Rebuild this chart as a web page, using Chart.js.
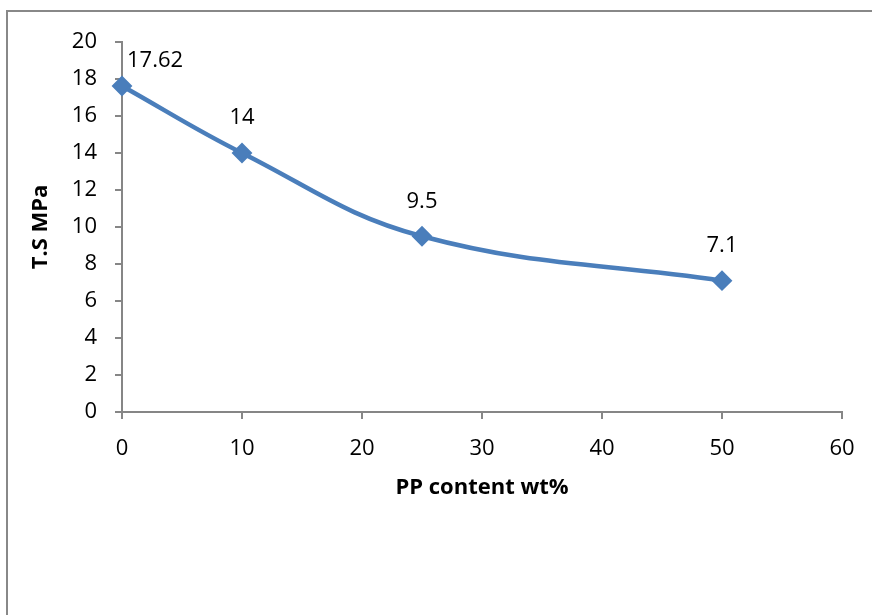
<!DOCTYPE html>
<html>
<head>
<meta charset="utf-8">
<script src="https://cdn.jsdelivr.net/npm/chart.js@4/dist/chart.umd.min.js"></script>
<style>
  html, body { margin: 0; padding: 0; background: #fff; overflow: hidden; }
  #wrap { position: relative; width: 872px; height: 615px; }
  #frame { position: absolute; left: 6px; top: 10px; width: 900px; height: 700px; border: 2px solid #888; box-sizing: border-box; }
  canvas { position: absolute; left: 0; top: 0; }
</style>
</head>
<body>
<div id="wrap">
  <div id="frame"></div>
  <canvas id="c" width="872" height="615"></canvas>
</div>
<script>
const ppContent = [0, 10, 25, 50];
const tensileStrength = [17.62, 14, 9.5, 7.1];
const dataLabels = ["17.62", "14", "9.5", "7.1"];
const xTicks = [0, 10, 20, 30, 40, 50, 60];
const yTicks = [0, 2, 4, 6, 8, 10, 12, 14, 16, 18, 20];

const FONT = "'Open Sans', 'Noto Sans', sans-serif";
const BLUE = '#4A7EBB';
const AXIS = '#868686';

const labelPlugin = {
  id: 'pointLabels',
  afterDatasetsDraw(chart) {
    const ctx = chart.ctx;
    const area = chart.chartArea;
    const meta = chart.getDatasetMeta(0);
    ctx.save();
    ctx.font = '22px ' + FONT;
    ctx.fillStyle = '#000';
    ctx.textAlign = 'center';
    ctx.textBaseline = 'middle';
    meta.data.forEach((pt, i) => {
      const txt = dataLabels[i];
      const w = ctx.measureText(txt).width;
      let x = pt.x;
      let y = pt.y - 35;
      if (x - w / 2 < area.left + 5) x = area.left + 5 + w / 2;
      if (y < area.top + 19) y = area.top + 19;
      ctx.fillText(txt, x, y);
    });
    ctx.restore();
  }
};

new Chart(document.getElementById('c'), {
  type: 'line',
  data: {
    datasets: [{
      data: ppContent.map((x, i) => ({ x: x, y: tensileStrength[i] })),
      borderColor: BLUE,
      backgroundColor: BLUE,
      borderWidth: 4.5,
      tension: 0.4,
      cubicInterpolationMode: 'default',
      pointStyle: 'rectRot',
      pointRadius: 9,
      pointBorderWidth: 2,
      pointBackgroundColor: BLUE,
      pointBorderColor: BLUE,
      clip: false
    }]
  },
  options: {
    responsive: false,
    animation: false,
    layout: { padding: { left: 0, top: 42, right: 30, bottom: 103 } },
    plugins: { legend: { display: false }, tooltip: { enabled: false } },
    scales: {
      x: {
        type: 'linear',
        min: 0, max: 60,
        afterBuildTicks(scale) { scale.ticks = xTicks.map(v => ({ value: v })); },
        afterFit(scale) { scale.height = 100; },
        grid: { drawOnChartArea: false, drawTicks: true, tickLength: 7, color: AXIS, lineWidth: 2 },
        border: { color: AXIS, width: 2 },
        ticks: { color: '#000', font: { family: FONT, size: 22 }, padding: 17, maxRotation: 0 },
        title: { display: true, text: 'PP content wt%', color: '#000', font: { family: FONT, size: 22, weight: 'bold' }, padding: { top: 0, bottom: 11 } }
      },
      y: {
        type: 'linear',
        min: 0, max: 20,
        afterBuildTicks(scale) { scale.ticks = yTicks.map(v => ({ value: v })); },
        afterFit(scale) { scale.width = 122; },
        grid: { drawOnChartArea: false, drawTicks: true, tickLength: 7, color: AXIS, lineWidth: 2 },
        border: { color: AXIS, width: 2 },
        ticks: { color: '#000', font: { family: FONT, size: 22 }, padding: 18 },
        title: { display: true, text: 'T.S MPa', color: '#000', font: { family: FONT, size: 22, weight: 'bold' }, padding: { top: 28, bottom: 0 } }
      }
    }
  },
  plugins: [labelPlugin]
});
</script>
</body>
</html>
